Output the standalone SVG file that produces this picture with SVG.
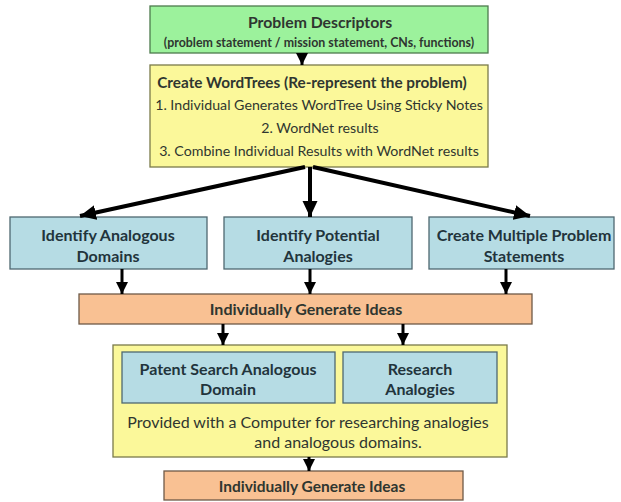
<svg xmlns="http://www.w3.org/2000/svg" width="621" height="502" viewBox="0 0 621 502">
  <style>
    .box { stroke: #4a4a4a; stroke-width: 1.3; }
    .green { fill: #9cf29c; stroke: #4d7a4d; }
    .yellow { fill: #fbf89a; stroke: #7a7a4a; }
    .blue { fill: #b6dce4; stroke: #4f6870; }
    .orange { fill: #f9c193; stroke: #6f5a48; }
    .t { font-family: Lato, "Open Sans", "Liberation Sans", sans-serif; text-anchor: middle; fill: #2f3630; }
    .b { font-weight: bold; }
    .blt { fill: #22343c; }
    .edge { stroke: #000; fill: none; }
  </style>
  <defs>
    <marker id="head" markerUnits="userSpaceOnUse" markerWidth="14" markerHeight="14" viewBox="0 0 14 14" refX="12" refY="7" orient="auto">
      <path d="M0,1 L12,7 L0,13 Z" fill="#000"/>
    </marker>
    <marker id="head-lg" markerUnits="userSpaceOnUse" markerWidth="18" markerHeight="18" viewBox="0 0 18 18" refX="16" refY="9" orient="auto">
      <path d="M0,1.5 L16,9 L0,16.5 Z" fill="#000"/>
    </marker>
  </defs>

  <!-- problem descriptors -->
  <g id="descriptors">
    <rect class="box green" x="150" y="6" width="338" height="47"/>
    <text class="t b" x="320" y="28" font-size="15.8">Problem Descriptors</text>
    <text class="t b" x="319" y="47" font-size="12.4">(problem statement / mission statement, CNs, functions)</text>
  </g>

  <!-- word trees -->
  <g id="wordtrees">
    <rect class="box yellow" x="150" y="65" width="338" height="102"/>
    <text class="t b" x="312" y="88" font-size="15.3">Create WordTrees (Re-represent the problem)</text>
    <text class="t" x="319" y="110" font-size="14.2">1. Individual Generates WordTree Using Sticky Notes</text>
    <text class="t" x="320" y="133" font-size="14.2">2.  WordNet results</text>
    <text class="t" x="319" y="156" font-size="14.2">3. Combine Individual Results with WordNet results</text>
  </g>

  <!-- three parallel activities -->
  <g id="domains">
    <rect class="box blue" x="10" y="217" width="197" height="52"/>
    <text class="t b blt" x="108" y="241" font-size="16">Identify Analogous</text>
    <text class="t b blt" x="108" y="262" font-size="16">Domains</text>
  </g>
  <g id="analogies">
    <rect class="box blue" x="224" y="217" width="188" height="52"/>
    <text class="t b blt" x="318" y="241" font-size="16">Identify Potential</text>
    <text class="t b blt" x="318" y="262" font-size="16">Analogies</text>
  </g>
  <g id="statements">
    <rect class="box blue" x="429" y="217" width="185" height="52"/>
    <text class="t b blt" x="524" y="241" font-size="16">Create Multiple Problem</text>
    <text class="t b blt" x="524" y="262" font-size="16">Statements</text>
  </g>

  <!-- idea generation -->
  <g id="ideas1">
    <rect class="box orange" x="79" y="294" width="453" height="30"/>
    <text class="t b" x="306" y="315" font-size="16">Individually Generate Ideas</text>
  </g>

  <!-- research session with a computer -->
  <g id="research">
    <rect class="box yellow" x="113" y="345" width="394" height="112"/>
    <text class="t" x="308" y="428" font-size="16">Provided with a Computer for researching analogies</text>
    <text class="t" x="338" y="448" font-size="16">and analogous domains.</text>
  </g>
  <g id="patent">
    <rect class="box blue" x="122" y="352" width="213" height="51"/>
    <text class="t b blt" x="228" y="375" font-size="16">Patent Search Analogous</text>
    <text class="t b blt" x="228" y="395" font-size="16">Domain</text>
  </g>
  <g id="research-analogies">
    <rect class="box blue" x="343" y="352" width="154" height="51"/>
    <text class="t b blt" x="420" y="375" font-size="16">Research</text>
    <text class="t b blt" x="420" y="395" font-size="16">Analogies</text>
  </g>

  <g id="ideas2">
    <rect class="box orange" x="164" y="471" width="299" height="29"/>
    <text class="t b" x="312" y="492" font-size="15.5">Individually Generate Ideas</text>
  </g>

  <!-- connectors -->
  <g id="connectors" class="edge" marker-end="url(#head)">
    <line x1="302" y1="53" x2="302" y2="65" stroke-width="3"/>
    <line x1="305" y1="167" x2="80" y2="216" stroke-width="4" marker-end="url(#head-lg)"/>
    <line x1="310" y1="167" x2="310" y2="217" stroke-width="4" marker-end="url(#head-lg)"/>
    <line x1="313" y1="167" x2="530" y2="216" stroke-width="4" marker-end="url(#head-lg)"/>
    <line x1="122" y1="269" x2="122" y2="294" stroke-width="3"/>
    <line x1="310" y1="269" x2="310" y2="294" stroke-width="3"/>
    <line x1="506" y1="269" x2="506" y2="294" stroke-width="3"/>
    <line x1="223" y1="324" x2="223" y2="345" stroke-width="3"/>
    <line x1="403" y1="324" x2="403" y2="345" stroke-width="3"/>
    <line x1="309" y1="457" x2="309" y2="471" stroke-width="3"/>
  </g>
</svg>
